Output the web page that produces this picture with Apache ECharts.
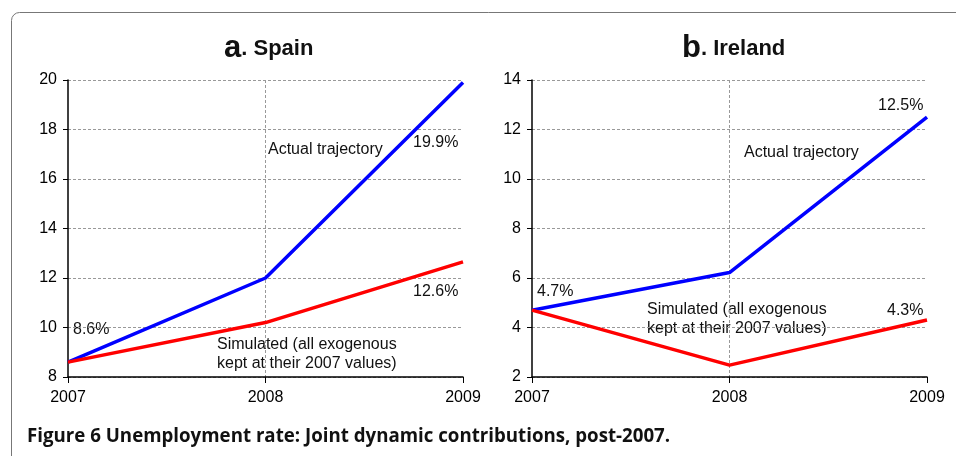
<!DOCTYPE html>
<html><head><meta charset="utf-8">
<script src="https://cdn.jsdelivr.net/npm/echarts@6/dist/echarts.min.js"></script>
<style>html,body{margin:0;padding:0;background:#fff}#c{width:956px;height:456px}</style>
</head><body><div id="c"></div>
<script>
const years = ['2007', '2008', '2009'];
const spainActual = [8.6, 12.0, 19.9];
const spainSimulated = [8.6, 10.2, 12.65];
const irelandActual = [4.7, 6.22, 12.5];
const irelandSimulated = [4.7, 2.48, 4.3];
const spainTicks = {min: 8, max: 20, interval: 2};
const irelandTicks = {min: 2, max: 14, interval: 2};

const chart = echarts.init(document.getElementById('c'), null, {renderer: 'canvas'});
const FONT = 'Liberation Sans';
function xAx(gi) {
  return {
    type: 'category', gridIndex: gi, data: years, boundaryGap: false,
    axisLine: {lineStyle: {color: '#000', width: 1.5}},
    axisTick: {show: true, length: 6, lineStyle: {color: '#000'}},
    axisLabel: {color: '#000', fontFamily: FONT, fontSize: 16, margin: 13},
    splitLine: {show: true, interval: (i) => i === 1, lineStyle: {color: '#999', type: [3, 2], width: 1}}
  };
}
function yAx(gi, t) {
  return {
    type: 'value', gridIndex: gi, min: t.min, max: t.max, interval: t.interval,
    axisLine: {show: true, lineStyle: {color: '#000', width: 1.5}},
    axisTick: {show: true, length: 5, lineStyle: {color: '#000'}},
    axisLabel: {color: '#000', fontFamily: FONT, fontSize: 16, margin: 11},
    splitLine: {show: true, lineStyle: {color: '#999', type: [3, 2], width: 1}}
  };
}
function line(gi, data, color) {
  return {type: 'line', xAxisIndex: gi, yAxisIndex: gi, data: data, symbol: 'none',
    lineStyle: {color: color, width: 3.5}, z: 3, animation: false};
}
function txt(x, y, s) {
  return {type: 'text', left: x, top: y, style: {text: s, fill: '#111', font: '16px "Liberation Sans"', lineHeight: 19}};
}
const titleRich = {a: {font: 'bold 31px "Liberation Sans"', fill: '#111'}, b: {font: 'bold 22px "Liberation Sans"', fill: '#111'}};
chart.setOption({
  animation: false,
  grid: [
    {left: 68, right: 493, top: 80, bottom: 79},
    {left: 532, right: 29, top: 80, bottom: 79}
  ],
  xAxis: [xAx(0), xAx(1)],
  yAxis: [yAx(0, spainTicks), yAx(1, irelandTicks)],
  series: [
    line(0, spainActual, '#0000ff'),
    line(0, spainSimulated, '#ff0000'),
    line(1, irelandActual, '#0000ff'),
    line(1, irelandSimulated, '#ff0000')
  ],
  graphic: [
    {type: 'rect', shape: {x: 11.5, y: 12.5, width: 1000, height: 500, r: 8}, style: {fill: 'none', stroke: '#777', lineWidth: 1}, z: -1},
    {type: 'text', left: 224, top: 33, style: {rich: titleRich, text: '{a|a}{b|. Spain}'}},
    {type: 'text', left: 682, top: 33, style: {rich: titleRich, text: '{a|b}{b|. Ireland}'}},
    txt(73, 320, '8.6%'),
    txt(268, 140, 'Actual trajectory'),
    txt(413, 133, '19.9%'),
    txt(413, 282, '12.6%'),
    txt(217, 335, 'Simulated (all exogenous\nkept at their 2007 values)'),
    txt(537, 282, '4.7%'),
    txt(878, 96, '12.5%'),
    txt(744, 143, 'Actual trajectory'),
    txt(647, 300, 'Simulated (all exogenous\nkept at their 2007 values)'),
    txt(887, 301, '4.3%'),
    {type: 'text', left: 27, top: 427, style: {text: 'Figure 6 Unemployment rate: Joint dynamic contributions, post-2007.', fill: '#111', font: 'bold 18.7px "Open Sans"'}}
  ]
});
</script></body></html>
